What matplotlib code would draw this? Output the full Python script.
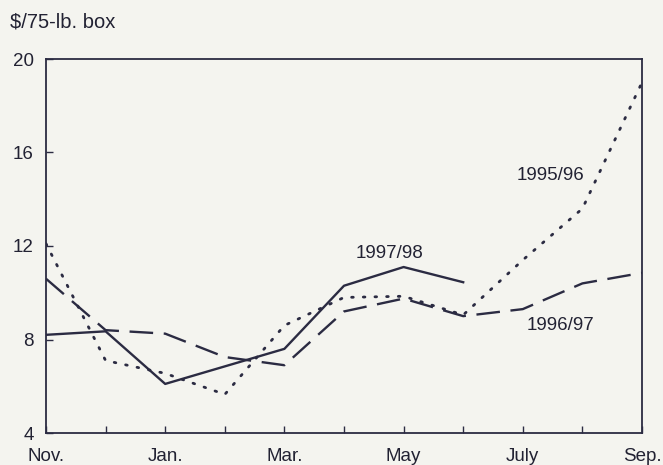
import matplotlib
matplotlib.use("Agg")
import matplotlib.pyplot as plt

plt.rcParams["font.family"] = ["Liberation Sans", "DejaVu Sans"]

months = ["Nov", "Dec", "Jan", "Feb", "Mar", "Apr", "May", "Jun", "Jul", "Aug", "Sep"]
tick_labels = ["Nov.", "", "Jan.", "", "Mar.", "", "May", "", "July", "", "Sep."]

s1995_96 = [12.1, 7.1, 6.55, 5.65, 8.6, 9.8, 9.85, 9.05, 11.4, 13.6, 19.0]
s1996_97 = [10.6, 8.4, 8.25, 7.25, 6.9, 9.2, 9.75, 9.0, 9.3, 10.4, 10.85]
s1997_98 = [8.2, 8.35, 6.1, 6.85, 7.6, 10.3, 11.1, 10.45]

ink = "#2b2b42"
txt = "#222233"
bg = "#f4f4ef"

fig = plt.figure(figsize=(6.63, 4.65), dpi=100, facecolor=bg)
ax = fig.add_axes([46 / 663, 1 - 433 / 465, 596 / 663, 374 / 465], facecolor=bg)

x = list(range(len(months)))
ax.plot(x, s1995_96, color=ink, lw=2.0, linestyle=(0, (0.6, 3.6)), dash_capstyle="round")
ax.plot(x, s1996_97, color=ink, lw=1.7, linestyle=(0, (10, 4.5)))
ax.plot(x[:len(s1997_98)], s1997_98, color=ink, lw=1.7)

ax.set_xlim(0, len(months) - 1)
ax.set_ylim(4, 20)
ax.set_xticks(x)
ax.set_xticklabels(tick_labels)
ax.set_yticks([4, 8, 12, 16, 20])
ax.tick_params(axis="both", direction="in", length=5, width=1, color=ink,
               labelsize=13.5, labelcolor=txt)
ax.tick_params(axis="x", pad=10.5)
ax.tick_params(axis="y", pad=9)
for side in ax.spines.values():
    side.set_color(ink)
    side.set_linewidth(1.3)

fig.text(10 / 663, 1 - 22 / 465, "$/75-lb. box", fontsize=14.5, color=txt, va="center")

ax.text(9.04, 15.0, "1995/96", fontsize=13.5, color=txt, ha="right", va="center")
ax.text(5.77, 11.7, "1997/98", fontsize=13.5, color=txt, ha="center", va="center")
ax.text(8.63, 8.62, "1996/97", fontsize=13.5, color=txt, ha="center", va="center")

fig.savefig("out.png", dpi=100, facecolor=bg)
